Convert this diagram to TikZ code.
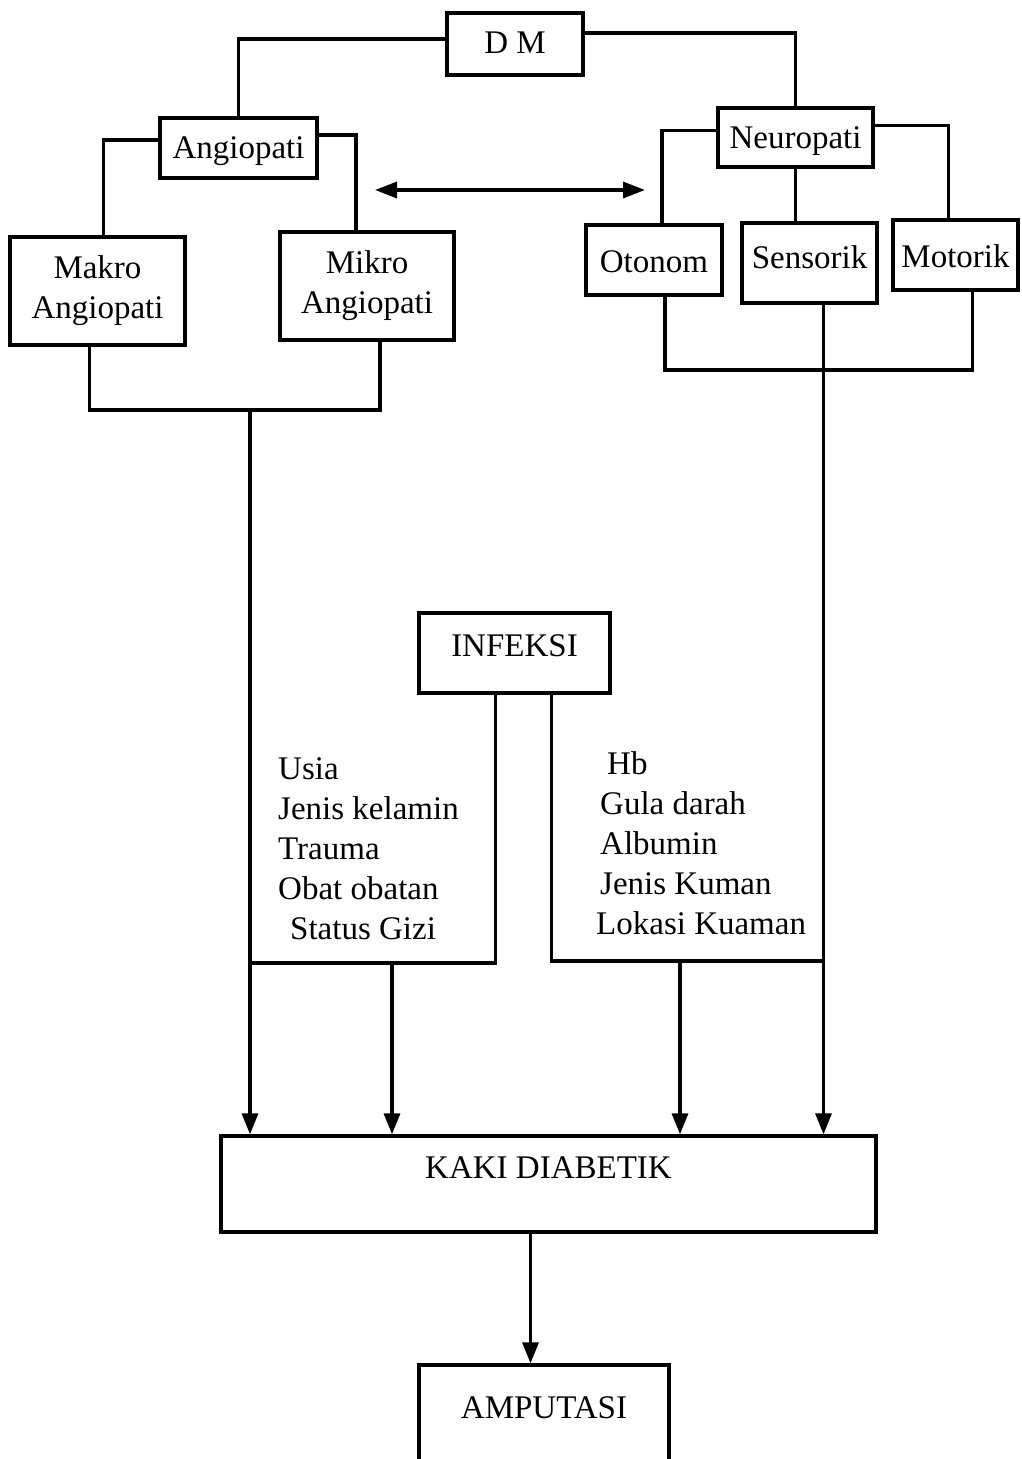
\documentclass[tikz,border=0pt]{standalone}
\usepackage{fontspec}
\setmainfont{Liberation Serif}
\usetikzlibrary{arrows.meta}
\begin{document}
\begin{tikzpicture}[x=1pt,y=-1pt,
  every node/.style={font=\fontsize{33}{40}\selectfont},
  box/.style={draw, line width=3.3pt, inner sep=0pt},
  link/.style={line width=3.3pt},
  arr/.style={line width=3.3pt, -{Triangle[length=21pt,width=16pt]}},
  dbl/.style={line width=3.3pt, {Triangle[length=22pt,width=16pt]}-{Triangle[length=22pt,width=16pt]}},
  list/.style={anchor=north west, align=left, inner sep=0pt}
]
\clip (0,0) rectangle (1021,1459);
\fill[white] (0,0) rectangle (1021,1459);

% boxes
\node[box, minimum width=136pt, text height=40pt, text depth=22pt] (dm) at (515,44) {D M};
\node[box, minimum width=157pt, text height=40pt, text depth=20pt] (angio) at (238.5,148) {Angiopati};
\node[box, minimum width=175pt, minimum height=108pt, align=center] (makro) at (97.5,291) {Makro\\Angiopati};
\node[box, minimum width=174pt, minimum height=108pt, align=center] (mikro) at (367,286) {Mikro\\Angiopati};
\node[box, minimum width=155pt, text height=40pt, text depth=19pt] (neuro) at (795.5,137.5) {Neuropati};
\node[box, minimum width=136pt, text height=47pt, text depth=23pt] (otonom) at (654,260) {Otonom};
\node[box, minimum width=135pt, text height=45pt, text depth=35pt] (sensorik) at (809.5,263) {Sensorik};
\node[box, minimum width=125pt, text height=47pt, text depth=23pt] (motorik) at (955.5,255) {Motorik};
\node[box, minimum width=191pt, text height=43pt, text depth=37pt] (infeksi) at (514.5,653) {INFEKSI};
\node[box, minimum width=655pt, text height=42pt, text depth=54pt] (kaki) at (548.5,1184) {KAKI DIABETIK};
\node[box, minimum width=250pt, text height=53pt, text depth=72pt] (amp) at (544,1427.5) {AMPUTASI};

% factor lists
\node[list] (risk) at (278,757) {Usia\\Jenis kelamin\\Trauma\\Obat obatan\\\hspace*{12pt}Status Gizi};
\node[list] (lab) at (596,751) {\hspace*{11pt}Hb\\\hspace*{4pt}Gula darah\\\hspace*{4pt}Albumin\\\hspace*{4pt}Jenis Kuman\\Lokasi Kuaman};

% coordinates
\coordinate (angjoin) at (250,410);
\coordinate (neujoin) at (823.5,370);
\coordinate (lj) at (250,963);
\coordinate (lb) at (392,963);
\coordinate (rj) at (823.5,961);
\coordinate (rb) at (680,961);
\coordinate (dl) at (375,190);
\coordinate (dr) at (645,190);

% tree connectors
\draw[link] ([yshift=5pt]dm.west) -| (angio.north);
\draw[link] ([yshift=11pt]dm.east) -| (neuro.north);
\draw[link] ([yshift=8pt]angio.west) -| ([xshift=6pt]makro.north);
\draw[link] ([yshift=13pt]angio.east) -| ([xshift=-11pt]mikro.north);
\draw[link] ([yshift=7pt]neuro.west) -| ([xshift=8pt]otonom.north);
\draw[link] ([yshift=12pt]neuro.east) -| ([xshift=-7pt]motorik.north);
\draw[link] (neuro.south) -- (neuro.south |- sensorik.north);

\draw[link] ([xshift=-8pt]makro.south) |- (angjoin) -| ([xshift=13pt]mikro.south);
\draw[link] ([xshift=11pt]otonom.south) |- (neujoin) -| ([xshift=17pt]motorik.south);

\draw[dbl] (dl) -- (dr);

% to kaki diabetik
\draw[arr] (angjoin) -- (angjoin |- kaki.north);
\draw[arr] ([xshift=14pt]sensorik.south) -- (neujoin |- kaki.north);
\draw[link] ([xshift=-19pt]infeksi.south) |- (lj);
\draw[link] ([xshift=37pt]infeksi.south) |- (rj);
\draw[arr] (lb) -- (lb |- kaki.north);
\draw[arr] (rb) -- (rb |- kaki.north);

\draw[arr] ([xshift=-18pt]kaki.south) -- ([xshift=-13.5pt]amp.north);
\end{tikzpicture}
\end{document}
